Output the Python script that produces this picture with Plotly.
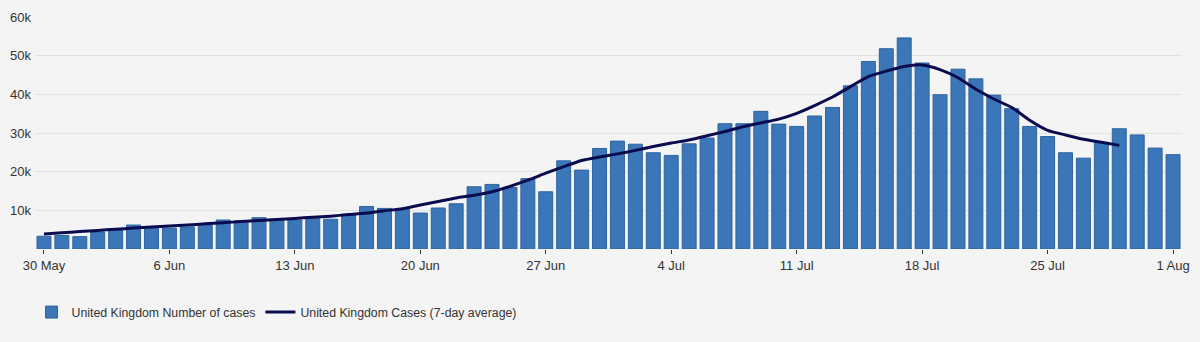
import pandas as pd
import plotly.graph_objects as go

dates = pd.date_range("2021-05-30", "2021-08-01", freq="D")

daily_cases = [
    3300, 3500, 3200, 4400, 5200, 6200, 5600, 5400, 5700, 6100,
    7500, 7300, 8100, 7700, 7500, 7800, 7700, 9000, 11000, 10500,
    10300, 9300, 10600, 11700, 16100, 16700, 15900, 18200, 14800, 22800,
    20400, 26000, 27900, 27100, 24900, 24200, 27200, 28700, 32400, 32400,
    35600, 32300, 31700, 34400, 36600, 42200, 48500, 51800, 54600, 48100,
    39900, 46500, 44000, 39800, 36300, 31700, 29100, 24900, 23500, 27600,
    31100, 29500, 26100, 24400,
]

avg_7day = [
    3900, 4200, 4500, 4800, 5100, 5400, 5700, 5950, 6200, 6500,
    6800, 7100, 7350, 7600, 7900, 8200, 8500, 8900, 9300, 9900,
    10400, 11400, 12300, 13200, 13900, 14800, 16200, 17800, 19600, 21300,
    22900, 23800, 24600, 25500, 26500, 27400, 28200, 29300, 30400, 31600,
    32600, 33600, 35100, 37100, 39300, 42000, 44600, 46000, 47200, 47600,
    46400, 44300, 41300, 38800, 36600, 33300, 30700, 29500, 28400, 27600,
    26800,
]

tick_dates = ["2021-05-30", "2021-06-06", "2021-06-13", "2021-06-20", "2021-06-27",
              "2021-07-04", "2021-07-11", "2021-07-18", "2021-07-25", "2021-08-01"]
tick_labels = ["30 May", "6 Jun", "13 Jun", "20 Jun", "27 Jun",
               "4 Jul", "11 Jul", "18 Jul", "25 Jul", "1 Aug"]

y_ticks = [10000, 20000, 30000, 40000, 50000, 60000]
y_labels = ["10k", "20k", "30k", "40k", "50k", "60k"]

FONT = "Liberation Sans, Arial, sans-serif"
BG = "#f4f4f4"

fig = go.Figure()
fig.add_trace(go.Bar(
    x=dates, y=daily_cases,
    name="United Kingdom Number of cases",
    marker=dict(color="#3a76b8", line=dict(color="#2f64a0", width=1)),
))
fig.add_trace(go.Scatter(
    x=dates[:len(avg_7day)], y=avg_7day,
    name="United Kingdom Cases (7-day average)",
    mode="lines",
    line=dict(color="#0b0c4f", width=3, shape="spline", smoothing=0.6),
))

fig.update_layout(
    width=1200, height=342,
    margin=dict(l=33, r=15, t=10, b=93),
    paper_bgcolor=BG, plot_bgcolor=BG,
    bargap=0.22,
    showlegend=True,
    font=dict(family=FONT, size=13, color="#333333"),
    legend=dict(
        orientation="h", x=-0.003, xanchor="left", y=-0.272, yanchor="middle",
        font=dict(family=FONT, size=12.3, color="#333333"),
        bgcolor="rgba(0,0,0,0)", traceorder="normal",
    ),
    xaxis=dict(
        type="date",
        range=[dates[0] - pd.Timedelta(hours=12), dates[-1] + pd.Timedelta(hours=12)],
        tickmode="array", tickvals=tick_dates, ticktext=tick_labels,
        ticks="outside", ticklen=4, tickcolor="#333333", tickwidth=1,
        showgrid=False, zeroline=False, showline=False,
        tickfont=dict(family=FONT, size=13, color="#333333"),
    ),
    yaxis=dict(
        range=[0, 60000],
        tickmode="array", tickvals=y_ticks, ticktext=y_labels,
        showgrid=True, gridcolor="#e2e2e2", gridwidth=1,
        zeroline=False, showline=False, ticks="",
        tickfont=dict(family=FONT, size=13, color="#333333"),
        ticklabelstandoff=3,
    ),
)

fig.write_html("out.html")
